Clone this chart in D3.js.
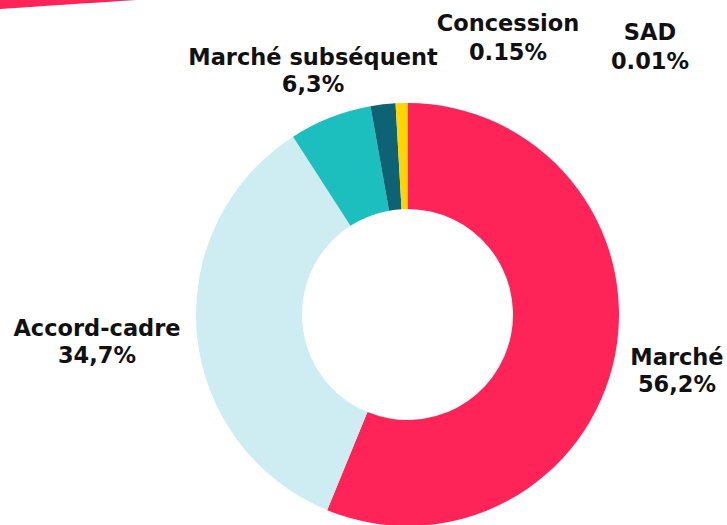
<!DOCTYPE html>
<html>
<head>
<meta charset="utf-8">
<script src="https://cdn.jsdelivr.net/npm/d3@7"></script>
<style>
  html, body { margin: 0; padding: 0; background: #fff; }
  svg { display: block; }
  text { font-family: "DejaVu Sans", sans-serif; font-weight: bold; fill: #111; }
</style>
</head>
<body>
<div id="chart"></div>
<script>
// slices, clockwise from 12 o'clock
const categories = ["Marché", "Accord-cadre", "Marché subséquent", "Concession", "SAD"];
const sliceValues = [56.2, 34.7, 6.3, 1.9, 0.9];
const valueLabels = ["56,2%", "34,7%", "6,3%", "0.15%", "0.01%"];
const colors = ["#ff2457", "#cdedf2", "#1cbfbe", "#0d6373", "#ffd400"];

// label centres (first line baseline)
const labelPos = [
  [677, 365], [97, 336], [313, 65], [508, 31], [650, 40]
];

const width = 727;
const height = 525;
const cx = 407.5, cy = 314.5;
const outerR = 211.5, innerR = 105.5;

const svg = d3.select("#chart")
  .append("svg")
  .attr("width", width)
  .attr("height", height);

// red swoosh in the corner
svg.append("path")
  .attr("d", "M0,0 L136,0 Q60,5 0,9 Z")
  .attr("fill", "#ff2457");

const data = categories.map((c, i) => ({ name: c, value: sliceValues[i], label: valueLabels[i] }));

const color = d3.scaleOrdinal()
  .domain(categories)
  .range(colors);

const pie = d3.pie()
  .value(d => d.value)
  .sort(null);

const arc = d3.arc()
  .innerRadius(innerR)
  .outerRadius(outerR);

const g = svg.append("g")
  .attr("transform", `translate(${cx},${cy})`);

g.selectAll("path")
  .data(pie(data))
  .join("path")
  .attr("d", arc)
  .attr("fill", d => color(d.data.name));

data.forEach((d, i) => {
  const t = svg.append("text")
    .attr("x", labelPos[i][0])
    .attr("y", labelPos[i][1])
    .attr("text-anchor", "middle")
    .style("font-size", "22.5px");
  t.append("tspan")
    .attr("x", labelPos[i][0])
    .text(d.name);
  t.append("tspan")
    .attr("x", labelPos[i][0])
    .attr("dy", i >= 3 ? 29 : 27)
    .text(d.label);
});
</script>
</body>
</html>
